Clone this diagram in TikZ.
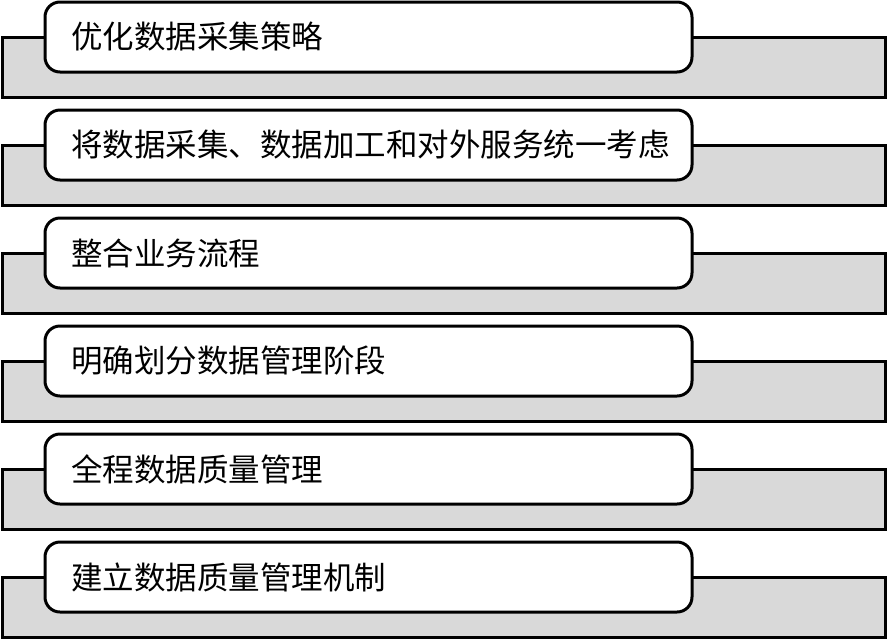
\documentclass[tikz,border=0pt]{standalone}
\usepackage{fontspec}
\newfontfamily\cjk{Noto Sans CJK SC}
\tikzset{
  band/.style={draw=black, line width=3pt, fill=gray!30},
  itembox/.style={draw=black, line width=3pt, fill=white, rounded corners=15pt},
  itemtext/.style={anchor=west, font=\cjk\fontsize{31.5}{36}\selectfont, inner sep=0pt}
}
\begin{document}
\begin{tikzpicture}[x=1pt,y=-1pt]
\useasboundingbox (0,0) rectangle (887,641);
\foreach \t [count=\i from 0] in {优化数据采集策略,将数据采集、数据加工和对外服务统一考虑,整合业务流程,明确划分数据管理阶段,全程数据质量管理,建立数据质量管理机制}{
  \pgfmathsetmacro{\yo}{108*\i}
  \draw[band] (2,37+\yo) rectangle (885,97+\yo);
  \draw[itembox] (45,2+\yo) rectangle (692,72+\yo);
  \node[itemtext] (t\i) at (71,37+\yo) {\t};
}
\end{tikzpicture}
\end{document}
